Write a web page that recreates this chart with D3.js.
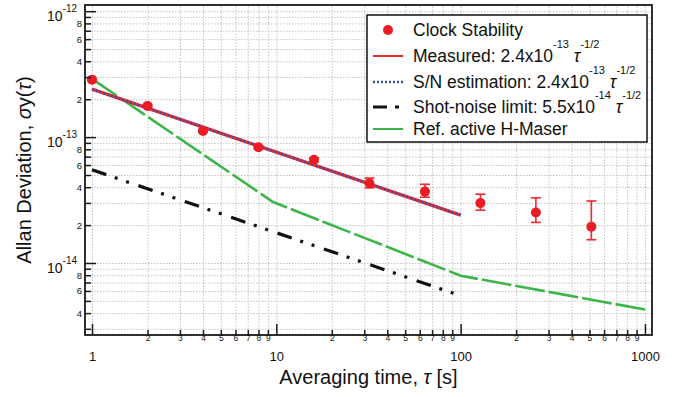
<!DOCTYPE html>
<html>
<head>
<meta charset="utf-8">
<script src="https://cdn.jsdelivr.net/npm/d3@7"></script>
<style>
    body { margin: 0; background: #fff; }
    text { font-family: "Liberation Sans", Arial, sans-serif; fill: #111; }
</style>
</head>
<body>
<svg id="chart"></svg>
<script>
// averaging times and measured Allan deviation
const tau = [1, 2, 4, 8, 16, 32, 64, 128, 256, 512];
const adev = [2.86e-13, 1.77e-13, 1.12e-13, 8.3e-14, 6.6e-14, 4.3e-14, 3.69e-14, 2.99e-14, 2.52e-14, 1.94e-14];
const errHigh = [2.9e-13, 1.8e-13, 1.14e-13, 8.5e-14, 6.85e-14, 4.73e-14, 4.22e-14, 3.52e-14, 3.29e-14, 3.11e-14];
const errLow = [2.82e-13, 1.74e-13, 1.1e-13, 8.1e-14, 6.35e-14, 3.95e-14, 3.33e-14, 2.63e-14, 2.1e-14, 1.53e-14];

// fit lines (end points)
const fitTau = [1, 100];
const measuredVal = [2.4e-13, 2.4e-14];
const snVal = [2.4e-13, 2.4e-14];
const shotVal = [5.5e-14, 5.5e-15];

// reference H-maser
const maserTau = [1, 9.6, 100, 1000];
const maserVal = [2.9e-13, 3.05e-14, 7.93e-15, 4.27e-15];

// ticks
const xMajor = [1, 10, 100, 1000];
const yMajor = [1e-14, 1e-13, 1e-12];
const minorLabelsY = [2, 4, 6, 8];

const margin = { top: 5, right: 34, bottom: 62, left: 85 },
    width = 686 - margin.left - margin.right,
    height = 397 - margin.top - margin.bottom;

const svg = d3.select("#chart")
    .attr("width", 686)
    .attr("height", 397);

const g = svg.append("g")
    .attr("transform", `translate(${margin.left},${margin.top})`);

const x = d3.scaleLog().domain([0.916, 1092]).range([0, width]);
const y = d3.scaleLog().domain([2.68e-15, 1.12e-12]).range([height, 0]);

let xMinor = [];
[1, 10, 100].forEach(d => {
    for (let k = 2; k <= 9; k++) xMinor.push(d * k);
});
let yMinor = [];
[-15, -14, -13].forEach(e => {
    for (let k = 2; k <= 9; k++) {
        let v = k * Math.pow(10, e);
        if (v >= 2.68e-15 && v <= 1.12e-12) yMinor.push(v);
    }
});

// grid
g.append("g")
    .attr("class", "grid")
    .attr("transform", `translate(0,${height})`)
    .call(d3.axisBottom(x).tickValues(xMajor.concat(xMinor)).tickSize(-height).tickFormat(""));
g.append("g")
    .attr("class", "grid")
    .call(d3.axisLeft(y).tickValues(yMajor.concat(yMinor)).tickSize(-width).tickFormat(""));
g.selectAll(".grid .domain").remove();
g.selectAll(".grid line")
    .attr("stroke", "#c4c4c4")
    .attr("stroke-width", 1)
    .attr("stroke-dasharray", "1.5,1.5");

const line = d3.line()
    .x(d => x(d[0]))
    .y(d => y(d[1]));

// H-maser
g.append("path")
    .datum(maserTau.map((t, i) => [t, maserVal[i]]))
    .attr("d", line)
    .attr("fill", "none")
    .attr("stroke", "#3db54a")
    .attr("stroke-width", 2.6)
    .attr("stroke-dasharray", "30,4");

// shot noise limit
g.append("path")
    .datum(fitTau.map((t, i) => [t, shotVal[i]]))
    .attr("d", line)
    .attr("fill", "none")
    .attr("stroke", "#111")
    .attr("stroke-width", 3.2)
    .attr("stroke-dasharray", "15,9,3,9,3,10");

// measured
g.append("path")
    .datum(fitTau.map((t, i) => [t, measuredVal[i]]))
    .attr("d", line)
    .attr("fill", "none")
    .attr("stroke", "#ec2a2f")
    .attr("stroke-width", 3.4);

// S/N estimation
g.append("path")
    .datum(fitTau.map((t, i) => [t, snVal[i]]))
    .attr("d", line)
    .attr("fill", "none")
    .attr("stroke", "#3d4f9f")
    .attr("stroke-width", 2.4)
    .attr("stroke-dasharray", "2,2");

// clock stability points with error bars
const pts = tau.map((t, i) => ({ t: t, v: adev[i], hi: errHigh[i], lo: errLow[i] }));
const err = g.append("g").selectAll("g").data(pts).enter().append("g")
    .attr("stroke", "#ec2a2f")
    .attr("stroke-width", 1.6);
err.append("line")
    .attr("x1", d => x(d.t)).attr("x2", d => x(d.t))
    .attr("y1", d => y(d.hi)).attr("y2", d => y(d.lo));
err.append("line")
    .attr("x1", d => x(d.t) - 5).attr("x2", d => x(d.t) + 5)
    .attr("y1", d => y(d.hi)).attr("y2", d => y(d.hi));
err.append("line")
    .attr("x1", d => x(d.t) - 5).attr("x2", d => x(d.t) + 5)
    .attr("y1", d => y(d.lo)).attr("y2", d => y(d.lo));
g.append("g").selectAll("circle").data(pts).enter().append("circle")
    .attr("cx", d => x(d.t))
    .attr("cy", d => y(d.v))
    .attr("r", 5)
    .attr("fill", "#ec1c24");

// frame
g.append("rect")
    .attr("width", width)
    .attr("height", height)
    .attr("fill", "none")
    .attr("stroke", "#1a1a1a")
    .attr("stroke-width", 1.8);

// x axis
const xAxisMajor = g.append("g")
    .attr("transform", `translate(0,${height})`)
    .call(d3.axisBottom(x).tickValues(xMajor).tickSize(-11).tickPadding(17).tickFormat(d3.format("d")));
xAxisMajor.selectAll("text").style("font-size", "13px");
const xAxisMinor = g.append("g")
    .attr("transform", `translate(0,${height})`)
    .call(d3.axisBottom(x).tickValues(xMinor).tickSize(-5).tickPadding(0)
        .tickFormat(d => Math.round(d / Math.pow(10, Math.floor(Math.log10(d) + 1e-9)))));
xAxisMinor.selectAll("text").style("font-size", "8.5px");

// y axis
const yAxisMajor = g.append("g")
    .call(d3.axisLeft(y).tickValues(yMajor).tickSize(-11).tickFormat(""));
yAxisMajor.selectAll(".tick text").remove();
yAxisMajor.selectAll(".tick").append("text")
    .attr("x", -8)
    .attr("y", 9)
    .attr("text-anchor", "end")
    .style("font-size", "14px")
    .each(function(d) {
        let t = d3.select(this);
        t.append("tspan").text("10");
        t.append("tspan")
            .attr("dy", -9)
            .style("font-size", "10px")
            .text(Math.round(Math.log10(d)));
    });
const yAxisMinor = g.append("g")
    .call(d3.axisLeft(y).tickValues(yMinor).tickSize(-6).tickPadding(3)
        .tickFormat(d => {
            let m = Math.round(d / Math.pow(10, Math.floor(Math.log10(d) + 1e-9)));
            return minorLabelsY.includes(m) ? m : "";
        }));
yAxisMinor.selectAll("text").style("font-size", "9.5px");

g.selectAll(".domain").remove();
g.selectAll("g.tick line").filter(function() {
    return this.parentNode.parentNode.getAttribute("class") !== "grid";
}).attr("stroke", "#1a1a1a").attr("stroke-width", 1.5);

// axis titles
const xTitle = svg.append("text")
    .attr("x", margin.left + width / 2)
    .attr("y", 384)
    .attr("text-anchor", "middle")
    .style("font-size", "20px");
xTitle.append("tspan").text("Averaging time, ");
xTitle.append("tspan").style("font-style", "italic").text("τ");
xTitle.append("tspan").text(" [s]");

const yTitle = svg.append("text")
    .attr("transform", `translate(31,${margin.top + height / 2}) rotate(-90)`)
    .attr("text-anchor", "middle")
    .style("font-size", "20px");
yTitle.append("tspan").text("Allan Deviation, ");
yTitle.append("tspan").style("font-style", "italic").text("σ");
yTitle.append("tspan").text("y(");
yTitle.append("tspan").style("font-style", "italic").text("τ");
yTitle.append("tspan").text(")");

// legend
const legendLabels = [
    [["Clock Stability", ""]],
    [["Measured: 2.4x10", ""], ["-13", "sup"], [" τ", "it"], ["-1/2", "sup"]],
    [["S/N estimation: 2.4x10", ""], ["-13", "sup"], [" τ", "it"], ["-1/2", "sup"]],
    [["Shot-noise limit: 5.5x10", ""], ["-14", "sup"], [" τ", "it"], ["-1/2", "sup"]],
    [["Ref. active H-Maser", ""]]
];
const legendRows = [36, 62, 88, 113, 135];

const legend = svg.append("g");
legend.append("rect")
    .attr("x", 367).attr("y", 15)
    .attr("width", 280).attr("height", 127)
    .attr("fill", "#fff")
    .attr("stroke", "#111")
    .attr("stroke-width", 1.5);

legend.append("circle")
    .attr("cx", 388).attr("cy", legendRows[0] - 6)
    .attr("r", 5).attr("fill", "#ec1c24");
legend.append("line")
    .attr("x1", 373).attr("x2", 403)
    .attr("y1", legendRows[1] - 6).attr("y2", legendRows[1] - 6)
    .attr("stroke", "#ec2a2f").attr("stroke-width", 2);
legend.append("line")
    .attr("x1", 373).attr("x2", 403)
    .attr("y1", legendRows[2] - 6).attr("y2", legendRows[2] - 6)
    .attr("stroke", "#3d4f9f").attr("stroke-width", 2.4).attr("stroke-dasharray", "2,2");
legend.append("line")
    .attr("x1", 373).attr("x2", 403)
    .attr("y1", legendRows[3] - 6).attr("y2", legendRows[3] - 6)
    .attr("stroke", "#111").attr("stroke-width", 3).attr("stroke-dasharray", "14,8,4,20");
legend.append("line")
    .attr("x1", 373).attr("x2", 403)
    .attr("y1", legendRows[4] - 6).attr("y2", legendRows[4] - 6)
    .attr("stroke", "#3db54a").attr("stroke-width", 2);

legendLabels.forEach((parts, i) => {
    let t = legend.append("text")
        .attr("x", 413)
        .attr("y", legendRows[i])
        .style("font-size", "17.5px");
    let raised = false;
    parts.forEach(p => {
        let s = t.append("tspan").text(p[0]);
        if (p[1] === "sup") {
            s.attr("dy", -14).style("font-size", "11px");
            raised = true;
        } else if (raised) {
            s.attr("dy", 14);
            raised = false;
        }
        if (p[1] === "it") s.style("font-style", "italic");
    });
});
</script>
</body>
</html>
